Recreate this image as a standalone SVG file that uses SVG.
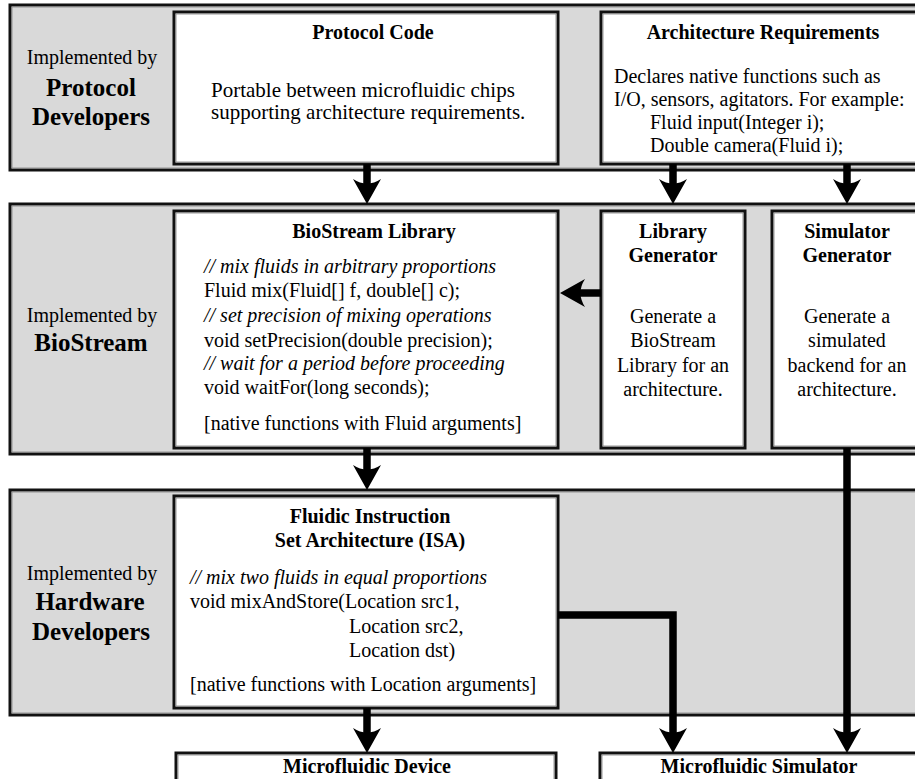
<svg xmlns="http://www.w3.org/2000/svg" width="915" height="779" viewBox="0 0 915 779">
<style>
.band{fill:#d9d9d9;stroke:#111;stroke-width:3}
.box{fill:#fff;stroke:#111;stroke-width:3}
.inner{fill:none;stroke:#8c8c8c;stroke-width:0.9}
text{font-family:"Liberation Serif","Times New Roman",serif;font-size:20px;fill:#000}
.b{font-weight:bold}
.big{font-weight:bold;font-size:25px}
.i{font-style:italic}
.m{text-anchor:middle}
.lg{font-size:21px}
.conn{fill:none;stroke:#000;stroke-width:7.5;stroke-linejoin:miter;marker-end:url(#ah)}
</style>
<defs>
<marker id="ah" viewBox="0 0 25 28" refX="15" refY="14" markerWidth="25" markerHeight="28" markerUnits="userSpaceOnUse" orient="auto">
<path d="M0,0 L25,14 L0,28 Q9,14 0,0 Z" fill="#000"/>
</marker>
</defs>

<g id="band-protocol">
<rect class="band" x="10" y="5" width="930" height="165"/>
<rect class="inner" x="12" y="7" width="926" height="161"/>
<text class="m" x="92" y="64">Implemented by</text>
<text class="m big" x="91" y="96">Protocol</text>
<text class="m big" x="91" y="125">Developers</text>
</g>
<g id="band-biostream">
<rect class="band" x="10" y="204" width="930" height="250"/>
<rect class="inner" x="12" y="206" width="926" height="246"/>
<text class="m" x="92" y="322">Implemented by</text>
<text class="m big" x="91" y="351">BioStream</text>
</g>
<g id="band-hardware">
<rect class="band" x="10" y="490" width="930" height="225"/>
<rect class="inner" x="12" y="492" width="926" height="221"/>
<text class="m" x="92" y="580">Implemented by</text>
<text class="m big" x="90" y="610">Hardware</text>
<text class="m big" x="91" y="640">Developers</text>
</g>

<g id="protocol-code">
<rect class="box" x="174" y="12" width="384" height="152"/>
<rect class="inner" x="176" y="14" width="380" height="148"/>
<text class="m b" x="373" y="39">Protocol Code</text>
<text class="lg" x="211" y="97">Portable between microfluidic chips</text>
<text class="lg" x="211" y="119">supporting architecture requirements.</text>
</g>
<g id="architecture-requirements">
<rect class="box" x="601" y="12" width="330" height="152"/>
<rect class="inner" x="603" y="14" width="326" height="148"/>
<text class="m b" x="763" y="39">Architecture Requirements</text>
<text x="614" y="83">Declares native functions such as</text>
<text x="614" y="106">I/O, sensors, agitators. For example:</text>
<text x="650" y="129">Fluid input(Integer i);</text>
<text x="650" y="152">Double camera(Fluid i);</text>
</g>
<g id="biostream-library">
<rect class="box" x="174" y="211" width="384" height="237"/>
<rect class="inner" x="176" y="213" width="380" height="233"/>
<text class="m b" x="374" y="238">BioStream Library</text>
<text class="i" x="204" y="273">// mix fluids in arbitrary proportions</text>
<text x="204" y="297">Fluid mix(Fluid[] f, double[] c);</text>
<text class="i" x="204" y="322">// set precision of mixing operations</text>
<text x="204" y="347">void setPrecision(double precision);</text>
<text class="i" x="204" y="370">// wait for a period before proceeding</text>
<text x="204" y="394">void waitFor(long seconds);</text>
<text x="204" y="430">[native functions with Fluid arguments]</text>
</g>
<g id="library-generator">
<rect class="box" x="601" y="211" width="144" height="237"/>
<rect class="inner" x="603" y="213" width="140" height="233"/>
<text class="m b" x="673" y="238">Library</text>
<text class="m b" x="673" y="262">Generator</text>
<text class="m" x="673" y="323">Generate a</text>
<text class="m" x="673" y="347">BioStream</text>
<text class="m" x="673" y="372">Library for an</text>
<text class="m" x="673" y="396">architecture.</text>
</g>
<g id="simulator-generator">
<rect class="box" x="772" y="211" width="160" height="237"/>
<rect class="inner" x="774" y="213" width="156" height="233"/>
<text class="m b" x="847" y="238">Simulator</text>
<text class="m b" x="847" y="262">Generator</text>
<text class="m" x="847" y="323">Generate a</text>
<text class="m" x="847" y="347">simulated</text>
<text class="m" x="847" y="372">backend for an</text>
<text class="m" x="847" y="396">architecture.</text>
</g>
<g id="fluidic-isa">
<rect class="box" x="174" y="496" width="384" height="212"/>
<rect class="inner" x="176" y="498" width="380" height="208"/>
<text class="m b" x="370" y="523">Fluidic Instruction</text>
<text class="m b" x="370" y="547">Set Architecture (ISA)</text>
<text class="i" x="190" y="584">// mix two fluids in equal proportions</text>
<text x="190" y="608">void mixAndStore(Location src1,</text>
<text x="349" y="633">Location src2,</text>
<text x="349" y="657">Location dst)</text>
<text x="190" y="691">[native functions with Location arguments]</text>
</g>
<g id="microfluidic-device">
<rect class="box" x="176" y="753" width="380" height="60"/>
<rect class="inner" x="178" y="755" width="376" height="56"/>
<text class="m b" x="367" y="773">Microfluidic Device</text>
</g>
<g id="microfluidic-simulator">
<rect class="box" x="600" y="753" width="330" height="60"/>
<rect class="inner" x="602" y="755" width="326" height="56"/>
<text class="m b" x="759" y="773">Microfluidic Simulator</text>
</g>

<g id="connectors">
<path class="conn" d="M367,164 V194"/>
<path class="conn" d="M673,164 V194"/>
<path class="conn" d="M847,164 V194"/>
<path class="conn" d="M601,293 H570"/>
<path class="conn" d="M367,448 V480"/>
<path class="conn" d="M367,708 V743"/>
<path class="conn" d="M558,615 H673 V743"/>
<path class="conn" d="M847,448 V743"/>
</g>
</svg>
